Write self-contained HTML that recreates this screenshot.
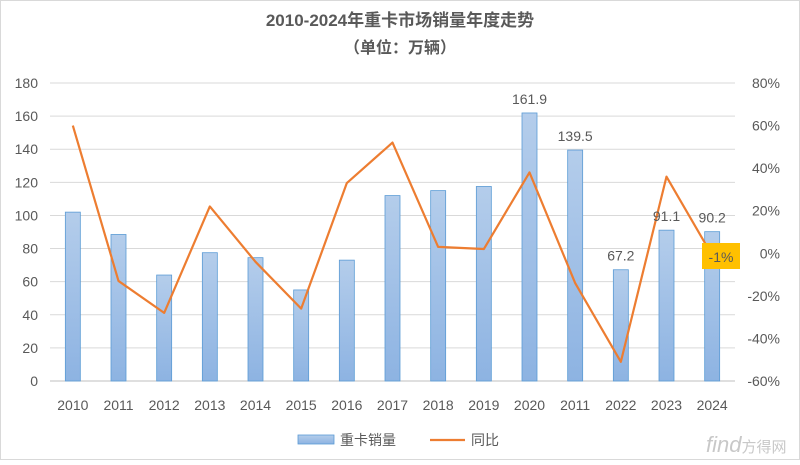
<!DOCTYPE html>
<html><head><meta charset="utf-8"><style>
body{margin:0;background:#fff;}
svg text{font-family:"Liberation Sans","Noto Sans CJK SC",sans-serif;}
</style></head><body>
<svg id="c" width="800" height="460">
<defs><linearGradient id="bg" x1="0" y1="0" x2="0" y2="1"><stop offset="0" stop-color="#b4cdeb"/><stop offset="1" stop-color="#8db3e2"/></linearGradient></defs>
<rect x="0.5" y="0.5" width="799" height="459" fill="#fff" stroke="#d9d9d9"/>
<text x="400" y="26" text-anchor="middle" font-size="17" font-weight="bold" fill="#595959">2010-2024年重卡市场销量年度走势</text>
<text x="400" y="53" text-anchor="middle" font-size="16" font-weight="bold" fill="#595959">（单位：万辆）</text>
<g id="grid"></g><g id="bars"></g><g id="line"></g><g id="labels"></g>
<rect x="702" y="243" width="38" height="26" fill="#ffc000"/>
<text x="721" y="262" text-anchor="middle" font-size="14" fill="#595959">-1%</text>
<rect x="298" y="435" width="36" height="9" fill="url(#bg)" stroke="#5b9bd5" stroke-width="0.8"/>
<text x="340" y="445" font-size="14" fill="#595959">重卡销量</text>
<line x1="430" y1="440" x2="465" y2="440" stroke="#ed7d31" stroke-width="2.2"/>
<text x="471" y="445" font-size="14" fill="#595959">同比</text>
<text x="706" y="452" font-size="22" fill="#c8c8c8" font-style="italic">find<tspan font-size="15" font-style="normal">方得网</tspan></text>
</svg>
<script>
const categories=["2010","2011","2012","2013","2014","2015","2016","2017","2018","2019","2020","2011","2022","2023","2024"];
const sales=[102,88.5,64,77.5,74.5,55,73,112,115,117.5,161.9,139.5,67.2,91.1,90.2];
const yoy=[60,-13,-28,22,-4,-26,33,52,3,2,38,-14,-51,36,-1];
const leftTicks=[0,20,40,60,80,100,120,140,160,180];
const rightTicks=[-60,-40,-20,0,20,40,60,80];
const labeled=[10,11,12,13,14];
const NS="http://www.w3.org/2000/svg";
const L=50,R=735,T=83,B=381;
const step=(R-L)/categories.length;
const xc=i=>L+step*(i+0.5);
const yl=v=>B-(v/180)*(B-T);
const yr=v=>B-((v+60)/140)*(B-T);
function mk(tag,attrs,parent){const e=document.createElementNS(NS,tag);for(const k in attrs)e.setAttribute(k,attrs[k]);document.getElementById(parent).appendChild(e);return e;}
leftTicks.forEach(t=>{
 const g=mk('line',{x1:L,x2:R,y1:yl(t),y2:yl(t),stroke:t===0?'#bfbfbf':'#d9d9d9','stroke-width':1},'grid');
 
 
 const tx=mk('text',{x:38,y:yl(t)+5,'text-anchor':'end','font-size':14,fill:'#595959'},'grid');tx.textContent=t;
 
 
});
rightTicks.forEach(t=>{
 const tx=mk('text',{x:780,y:yr(t)+5,'text-anchor':'end','font-size':14,fill:'#595959'},'grid');tx.textContent=t+'%';
 
 
});
categories.forEach((c,i)=>{
 const tx=mk('text',{x:xc(i),y:410,'text-anchor':'middle','font-size':14,fill:'#595959'},'grid');tx.textContent=c;
 
 
 const b=mk('rect',{x:xc(i)-7.5,y:yl(sales[i]),width:15,height:B-yl(sales[i]),fill:'url(#bg)',stroke:'#5b9bd5','stroke-width':0.8},'bars');
 
 
});
labeled.forEach(i=>{
 const tx=mk('text',{x:xc(i),y:yl(sales[i])-9,'text-anchor':'middle','font-size':14,fill:'#595959'},'labels');tx.textContent=sales[i];
 
 
});
const p=mk('polyline',{points:yoy.map((v,i)=>xc(i)+','+yr(v)).join(' '),fill:'none',stroke:'#ed7d31','stroke-width':2.2,'stroke-linejoin':'round'},'line');


</script>
</body></html>
